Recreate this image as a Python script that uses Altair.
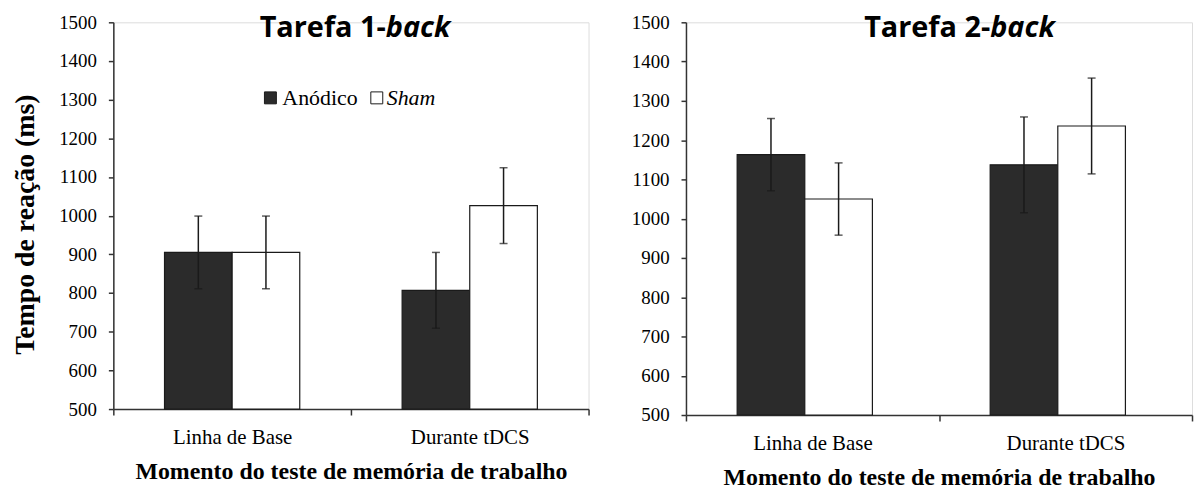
import altair as alt
import pandas as pd

# Categories and groups
momentos = ["Linha de Base", "Durante tDCS"]
grupos = ["Anódico", "Sham"]
y_ticks = [500, 600, 700, 800, 900, 1000, 1100, 1200, 1300, 1400, 1500]

# Tarefa 1-back: mean reaction time (ms) and error (ms)
media_1back_anodico = [905, 807]
media_1back_sham = [905, 1026]
erro_1back_anodico = [94, 98]
erro_1back_sham = [94, 98]

# Tarefa 2-back
media_2back_anodico = [1163, 1137]
media_2back_sham = [1050, 1236]
erro_2back_anodico = [92, 122]
erro_2back_sham = [92, 122]

SERIF = "Liberation Serif"
TITLE_FONT = "Open Sans"
X_TITLE = "Momento do teste de memória de trabalho"
Y_TITLE = "Tempo de reação (ms)"
Y_MIN, Y_MAX = 500, 1500


def tabela(med_a, med_s, err_a, err_s):
    rows = []
    for i, m in enumerate(momentos):
        for g, med, err in ((grupos[0], med_a[i], err_a[i]), (grupos[1], med_s[i], err_s[i])):
            rows.append({"momento": m, "grupo": g, "media": med,
                         "lo": med - err, "hi": med + err})
    return pd.DataFrame(rows)


def eixo_y(com_titulo):
    comum = dict(values=y_ticks, grid=False, tickSize=5, labelPadding=12,
                 labelFont=SERIF, labelFontSize=19, labelColor="black",
                 labelOverlap=False, domainColor="#333333", tickColor="#333333",
                 domainWidth=1.5, tickWidth=1.5, format="d")
    if com_titulo:
        return alt.Axis(title=Y_TITLE, titleFont=SERIF, titleFontSize=28,
                        titleFontWeight="bold", titleColor="black", titlePadding=19,
                        titleY=203, **comum)
    return alt.Axis(title=None, **comum)


def eixo_x():
    return alt.Axis(title=X_TITLE, labelAngle=0, tickBand="extent", tickSize=6,
                    labelPadding=12, labelFont=SERIF, labelFontSize=21,
                    labelColor="black", titleFont=SERIF, titleFontSize=24,
                    titleFontWeight="bold", titleColor="black", titlePadding=12,
                    domainColor="#333333", tickColor="#333333", domainWidth=1.5,
                    tickWidth=1.5)


def painel(df, numero, largura, altura, pad_outer, corte_titulo, com_titulo_y, com_legenda):
    x_scale = alt.Scale(paddingInner=0, paddingOuter=0)
    y_scale = alt.Scale(domain=[Y_MIN, Y_MAX], nice=False, zero=False)

    def x_enc():
        return alt.X("momento:N", sort=momentos, scale=x_scale, axis=eixo_x())

    def y_enc(campo):
        return alt.Y(f"{campo}:Q", scale=y_scale, axis=eixo_y(com_titulo_y))

    xo_enc = alt.XOffset("grupo:N", sort=grupos,
                         scale=alt.Scale(paddingInner=0, paddingOuter=pad_outer))

    base = alt.Chart(df)
    barras = base.mark_bar(stroke="#1a1a1a", strokeWidth=1.2).encode(
        x=x_enc(), xOffset=xo_enc,
        y=y_enc("media"),
        y2=alt.Y2(datum=Y_MIN),
        fill=alt.Fill("grupo:N", scale=alt.Scale(domain=grupos, range=["#2b2b2b", "#ffffff"]),
                      legend=None),
    )
    hastes = base.mark_rule(color="#1a1a1a", strokeWidth=1.5).encode(
        x=x_enc(), xOffset=xo_enc, y=y_enc("lo"), y2="hi:Q",
    )
    cap_lo = base.mark_tick(color="#1a1a1a", size=8, thickness=1.5).encode(
        x=x_enc(), xOffset=xo_enc, y=y_enc("lo"),
    )
    cap_hi = base.mark_tick(color="#1a1a1a", size=8, thickness=1.5).encode(
        x=x_enc(), xOffset=xo_enc, y=y_enc("hi"),
    )

    # Title: upright "Tarefa N-" followed by italic "back"
    t1 = alt.Chart(pd.DataFrame({"rotulo": [f"Tarefa {numero}-"]})).mark_text(
        font=TITLE_FONT, fontSize=29, fontWeight="bold", align="right",
        baseline="alphabetic", color="black",
    ).encode(x=alt.value(corte_titulo), y=alt.value(15), text="rotulo:N")
    t2 = alt.Chart(pd.DataFrame({"rotulo": ["back"]})).mark_text(
        font=TITLE_FONT, fontSize=29, fontWeight="bold", fontStyle="italic",
        align="left", baseline="alphabetic", color="black",
    ).encode(x=alt.value(corte_titulo), y=alt.value(15), text="rotulo:N")

    camadas = [barras, hastes, cap_lo, cap_hi, t1, t2]

    if com_legenda:
        q1 = alt.Chart(pd.DataFrame({"g": [grupos[0]]})).mark_square(
            size=144, fill="#2b2b2b", stroke="#1a1a1a", strokeWidth=1, opacity=1
        ).encode(x=alt.value(158), y=alt.value(76))
        l1 = alt.Chart(pd.DataFrame({"g": [grupos[0]]})).mark_text(
            font=SERIF, fontSize=22, align="left", baseline="alphabetic", color="black"
        ).encode(x=alt.value(170), y=alt.value(83), text="g:N")
        q2 = alt.Chart(pd.DataFrame({"g": [grupos[1]]})).mark_square(
            size=144, fill="#ffffff", stroke="#1a1a1a", strokeWidth=1, opacity=1
        ).encode(x=alt.value(265), y=alt.value(76))
        l2 = alt.Chart(pd.DataFrame({"g": [grupos[1]]})).mark_text(
            font=SERIF, fontSize=22, fontStyle="italic", align="left",
            baseline="alphabetic", color="black"
        ).encode(x=alt.value(275), y=alt.value(83), text="g:N")
        camadas += [q1, l1, q2, l2]

    return alt.layer(*camadas).properties(width=largura, height=altura)


esquerda = painel(tabela(media_1back_anodico, media_1back_sham, erro_1back_anodico, erro_1back_sham),
                  1, 478, 389, 0.757, 274, True, True)
direita = painel(tabela(media_2back_anodico, media_2back_sham, erro_2back_anodico, erro_2back_sham),
                 2, 509, 395, 0.74, 306, False, False)

chart = alt.hconcat(esquerda, direita, spacing=40).properties(
    padding={"left": 11, "top": 11, "right": 0, "bottom": 0}
).configure_view(strokeWidth=0).configure(background="white")

chart.save("out.html", embed_options={"renderer": "svg", "actions": False})
